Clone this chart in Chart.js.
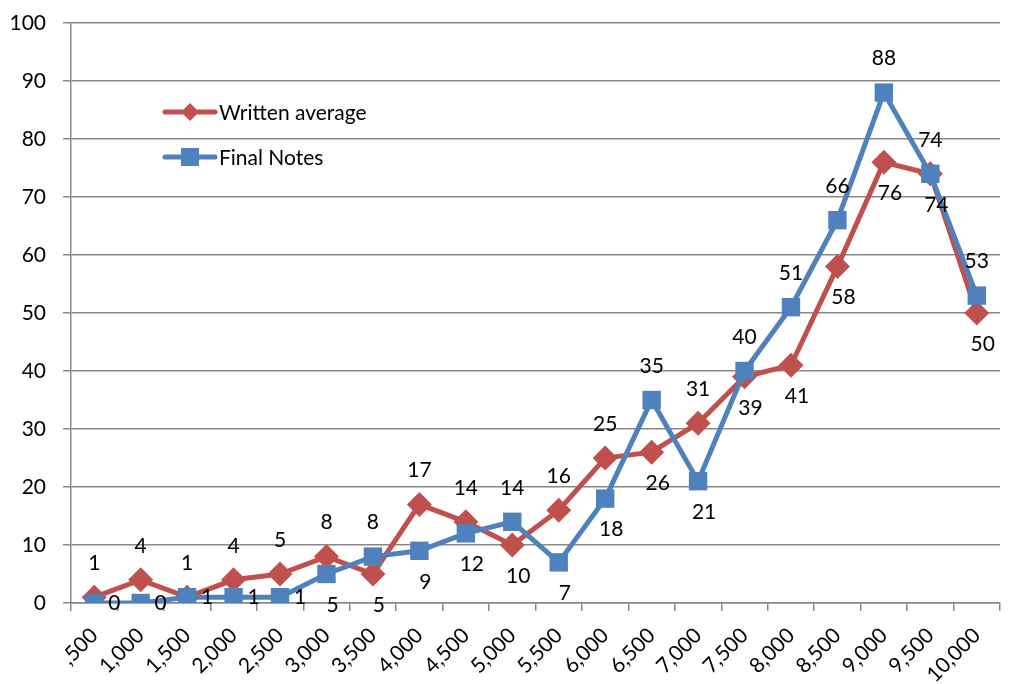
<!DOCTYPE html>
<html>
<head>
<meta charset="utf-8">
<script src="https://cdn.jsdelivr.net/npm/chart.js@4"></script>
<style>
  html, body { margin: 0; padding: 0; background: #fff; }
  #wrap { width: 1013px; height: 684px; }
</style>
</head>
<body>
<div id="wrap"><canvas id="chart" width="1013" height="684"></canvas></div>
<script>
// categories and series
const categories = [',500', '1,000', '1,500', '2,000', '2,500', '3,000', '3,500', '4,000', '4,500', '5,000',
    '5,500', '6,000', '6,500', '7,000', '7,500', '8,000', '8,500', '9,000', '9,500', '10,000'];
const writtenAverage = [1, 4, 1, 4, 5, 8, 5, 17, 14, 10, 16, 25, 26, 31, 39, 41, 58, 76, 74, 50];
const finalNotes = [0, 0, 1, 1, 1, 5, 8, 9, 12, 14, 7, 18, 35, 21, 40, 51, 66, 88, 74, 53];
const yTicks = [0, 10, 20, 30, 40, 50, 60, 70, 80, 90, 100];

const RED = '#C0504D';
const BLUE = '#4F81BD';
const FONT = 'Lato, "Liberation Sans", sans-serif';

// value labels: higher series above its point, lower one below
// (or to the right when below would run into the axis)
const valueLabels = {
    id: 'valueLabels',
    afterDatasetsDraw(chart) {
        const ctx = chart.ctx;
        const bottom = chart.chartArea.bottom;
        ctx.save();
        ctx.font = '21px ' + FONT;
        ctx.fillStyle = '#000';
        ctx.textAlign = 'center';
        ctx.textBaseline = 'middle';
        chart.data.datasets.forEach((ds, i) => {
            const other = chart.data.datasets[1 - i].data;
            const meta = chart.getDatasetMeta(i);
            meta.data.forEach((pt, k) => {
                const v = ds.data[k];
                const above = v > other[k] || (v === other[k] && i === 0);
                if (above) {
                    ctx.fillText(String(v), pt.x, pt.y - 34);
                } else if (pt.y + 30 > bottom + 4) {
                    ctx.fillText(String(v), pt.x + 20, pt.y);
                } else {
                    ctx.fillText(String(v), pt.x + 6, pt.y + 31);
                }
            });
        });
        ctx.restore();
    }
};

// legend sits inside the plot, upper left
const insideLegend = {
    id: 'insideLegend',
    afterDraw(chart) {
        const ctx = chart.ctx;
        ctx.save();
        chart.data.datasets.forEach((ds, i) => {
            const y = 112 + i * 45;
            ctx.strokeStyle = ds.borderColor;
            ctx.lineWidth = 5;
            ctx.lineCap = 'round';
            ctx.beginPath();
            ctx.moveTo(165, y);
            ctx.lineTo(215, y);
            ctx.stroke();
            ctx.fillStyle = ds.backgroundColor;
            ctx.beginPath();
            if (ds.pointStyle === 'rectRot') {
                ctx.moveTo(190, y - 9); ctx.lineTo(199, y); ctx.lineTo(190, y + 9); ctx.lineTo(181, y);
                ctx.closePath();
            } else {
                ctx.rect(181, y - 9, 18, 18);
            }
            ctx.fill();
            ctx.fillStyle = '#000';
            ctx.font = '21px ' + FONT;
            ctx.textAlign = 'left';
            ctx.textBaseline = 'middle';
            ctx.fillText(ds.label, 219, y + 1);
        });
        ctx.restore();
    }
};

const ctx = document.getElementById('chart').getContext('2d');
new Chart(ctx, {
    type: 'line',
    data: {
        labels: categories,
        datasets: [{
            label: 'Written average',
            data: writtenAverage,
            borderColor: RED,
            backgroundColor: RED,
            borderWidth: 5,
            pointStyle: 'rectRot',
            pointRadius: 12.5,
            pointHoverRadius: 12.5,
            pointBorderWidth: 0,
            tension: 0,
            order: 2
        }, {
            label: 'Final Notes',
            data: finalNotes,
            borderColor: BLUE,
            backgroundColor: BLUE,
            borderWidth: 5,
            pointStyle: 'rect',
            pointRadius: 13,
            pointHoverRadius: 13,
            pointBorderWidth: 0,
            tension: 0,
            order: 1
        }]
    },
    options: {
        responsive: false,
        animation: false,
        layout: { padding: { top: 23, right: 10, left: 0, bottom: 0 } },
        plugins: {
            legend: { display: false },
            tooltip: { enabled: false }
        },
        scales: {
            x: {
                offset: true,
                grid: { display: true, offset: true, drawOnChartArea: false, tickLength: 8, color: '#888', lineWidth: 1.5 },
                border: { display: true, color: '#888', width: 1.5 },
                ticks: {
                    color: '#000',
                    font: { family: FONT, size: 21 },
                    minRotation: 45,
                    maxRotation: 45,
                    autoSkip: false,
                    padding: 12
                },
                afterFit: s => { s.height = 81; }
            },
            y: {
                min: 0,
                max: 100,
                afterBuildTicks: s => { s.ticks = yTicks.map(v => ({ value: v })); },
                grid: { color: '#888', lineWidth: 1.5, tickLength: 8 },
                border: { display: true, color: '#888', width: 1.5 },
                ticks: {
                    color: '#000',
                    font: { family: FONT, size: 21 },
                    padding: 17
                },
                afterFit: s => { s.width = 71; s.paddingTop = 0; s.paddingBottom = 0; }
            }
        }
    },
    plugins: [valueLabels, insideLegend]
});
</script>
</body>
</html>
